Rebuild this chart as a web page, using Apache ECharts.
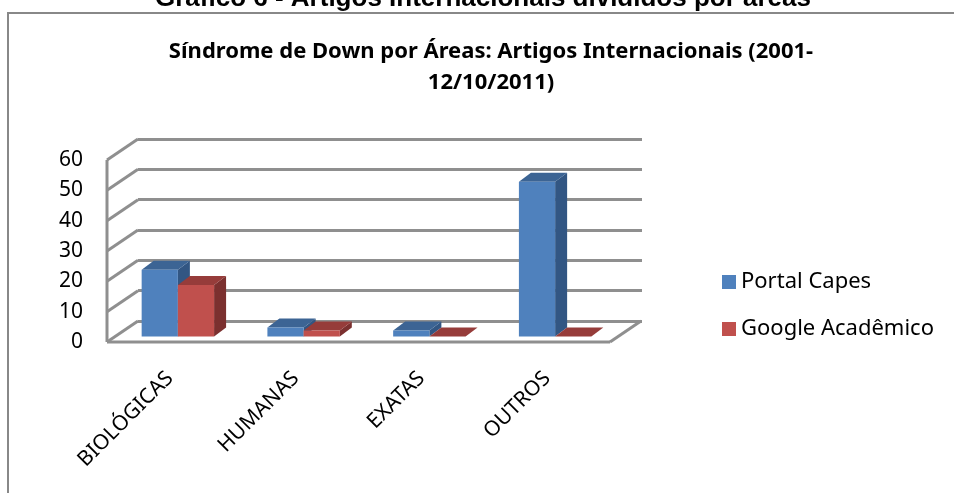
<!DOCTYPE html>
<html>
<head>
<meta charset="utf-8">
<script src="https://cdn.jsdelivr.net/npm/echarts@6/dist/echarts.min.js"></script>
<style>
html,body{margin:0;padding:0;background:#fff;}
#chart{width:954px;height:493px;}
</style>
</head>
<body>
<div id="chart"></div>
<script>
const categories = ['BIOLÓGICAS', 'HUMANAS', 'EXATAS', 'OUTROS'];
const portalCapes = [22, 3, 2, 51];
const googleAcademico = [17, 2, 0, 0];
const yTicks = [0, 10, 20, 30, 40, 50, 60];
const seriesNames = ['Portal Capes', 'Google Acadêmico'];
const outerTitle = 'Gráfico 6 - Artigos Internacionais divididos por áreas';
const innerTitle = 'Síndrome de Down por Áreas: Artigos Internacionais (2001-\n12/10/2011)';

const FONT = '"Noto Sans", sans-serif';
const GRID_COLOR = '#8f8f8f';
const WALL_DX = 31, WALL_DY = -21;

const colorsBlue = { front: '#4F81BD', top: '#3C6494', side: '#325683' };
const colorsRed = { front: '#C0504D', top: '#963C3A', side: '#7B302F' };

function barRender(side, col) {
  return function (params, api) {
    const i = api.value(0), v = api.value(1);
    const band = api.size([1, 0])[0];
    const w = band * 0.288;
    const c0 = api.coord([i, 0]);
    const c1 = api.coord([i, v]);
    const ox = 8, oy = -5.5, dx = 12, dy = -9;
    const xl = c0[0] + ox + (side === 0 ? -w : 0);
    const xr = xl + w;
    const yb = c0[1] + oy, yt = c1[1] + oy;
    const children = [];
    children.push({ type: 'polygon', shape: { points: [[xr, yb], [xr + dx, yb + dy], [xr + dx, yt + dy], [xr, yt]] }, style: { fill: col.side } });
    children.push({ type: 'polygon', shape: { points: [[xl, yt], [xr, yt], [xr + dx, yt + dy], [xl + dx, yt + dy]] }, style: { fill: col.top } });
    if (yb - yt > 0.5) children.push({ type: 'rect', shape: { x: xl, y: yt, width: w, height: yb - yt }, style: { fill: col.front } });
    return { type: 'group', children: children };
  };
}

function frameRender(params, api) {
  const v = api.value(1);
  const band = api.size([1, 0])[0];
  const c = api.coord([0, v]);
  const xL = c[0] - band / 2;
  const lineStyle = { stroke: GRID_COLOR, lineWidth: 3 };
  const children = [
    { type: 'line', shape: { x1: xL, y1: c[1], x2: xL + WALL_DX, y2: c[1] + WALL_DY }, style: lineStyle }
  ];
  if (params.dataIndex === 0) {
    const top = api.coord([0, yTicks[yTicks.length - 1]]);
    const last = api.coord([categories.length - 1, 0]);
    const xR = last[0] + band / 2;
    children.push({ type: 'line', shape: { x1: xL, y1: c[1], x2: xL, y2: top[1] }, style: lineStyle });
    children.push({ type: 'line', shape: { x1: xL, y1: c[1], x2: xR, y2: c[1] }, style: lineStyle });
    children.push({ type: 'line', shape: { x1: xR, y1: c[1], x2: xR + WALL_DX, y2: c[1] + WALL_DY }, style: lineStyle });
  }
  return { type: 'group', children: children };
}

const chart = echarts.init(document.getElementById('chart'), null, { renderer: 'canvas' });
chart.setOption({
  animation: false,
  backgroundColor: '#fff',
  title: {
    text: innerTitle,
    left: 486, top: 31,
    textAlign: 'center',
    textStyle: { fontFamily: FONT, fontWeight: 'bold', fontSize: 22, lineHeight: 31, color: '#000' }
  },
  graphic: [
    { type: 'rect', shape: { x: 8, y: 13, width: 1000, height: 600 }, style: { fill: 'none', stroke: '#888', lineWidth: 2 }, z: 0 },
    { type: 'text', x: 483, y: 12, style: { text: outerTitle, fontFamily: '"Liberation Sans", Arial, sans-serif', fontWeight: 'bold', fontSize: 26, fill: '#000', align: 'center', verticalAlign: 'bottom' } }
  ],
  legend: {
    orient: 'vertical', left: 717, top: 266,
    itemWidth: 14, itemHeight: 14, itemGap: 25, icon: 'rect',
    textStyle: { fontFamily: FONT, fontSize: 22, color: '#000' },
    data: seriesNames
  },
  grid: [
    { left: 107, right: 344, top: 160, bottom: 151 },
    { left: 138, right: 312, top: 139, bottom: 172 }
  ],
  xAxis: [
    { type: 'category', gridIndex: 0, data: categories, axisLine: { show: false }, axisTick: { show: false },
      axisLabel: { interval: 0, rotate: 45, margin: 33, fontFamily: FONT, fontSize: 21, color: '#000' } },
    { type: 'category', gridIndex: 1, data: categories, show: false }
  ],
  yAxis: [
    { type: 'value', gridIndex: 0, min: 0, max: 60, interval: 10, splitLine: { show: false }, axisLine: { show: false }, axisTick: { show: false },
      axisLabel: { margin: 24, fontFamily: FONT, fontSize: 21, color: '#000' } },
    { type: 'value', gridIndex: 1, min: 0, max: 60, interval: 10, axisLine: { show: false }, axisTick: { show: false }, axisLabel: { show: false },
      splitLine: { show: true, lineStyle: { color: GRID_COLOR, width: 3 } } }
  ],
  series: [
    { type: 'custom', name: 'frame', xAxisIndex: 0, yAxisIndex: 0, renderItem: frameRender, data: yTicks.map(function (t) { return [0, t]; }), silent: true, z: 1 },
    { type: 'custom', name: seriesNames[0], xAxisIndex: 0, yAxisIndex: 0, itemStyle: { color: colorsBlue.front }, renderItem: barRender(0, colorsBlue),
      data: portalCapes.map(function (v, i) { return [i, v]; }), z: 3 },
    { type: 'custom', name: seriesNames[1], xAxisIndex: 0, yAxisIndex: 0, itemStyle: { color: colorsRed.front }, renderItem: barRender(1, colorsRed),
      data: googleAcademico.map(function (v, i) { return [i, v]; }), z: 4 }
  ]
});
</script>
</body>
</html>
